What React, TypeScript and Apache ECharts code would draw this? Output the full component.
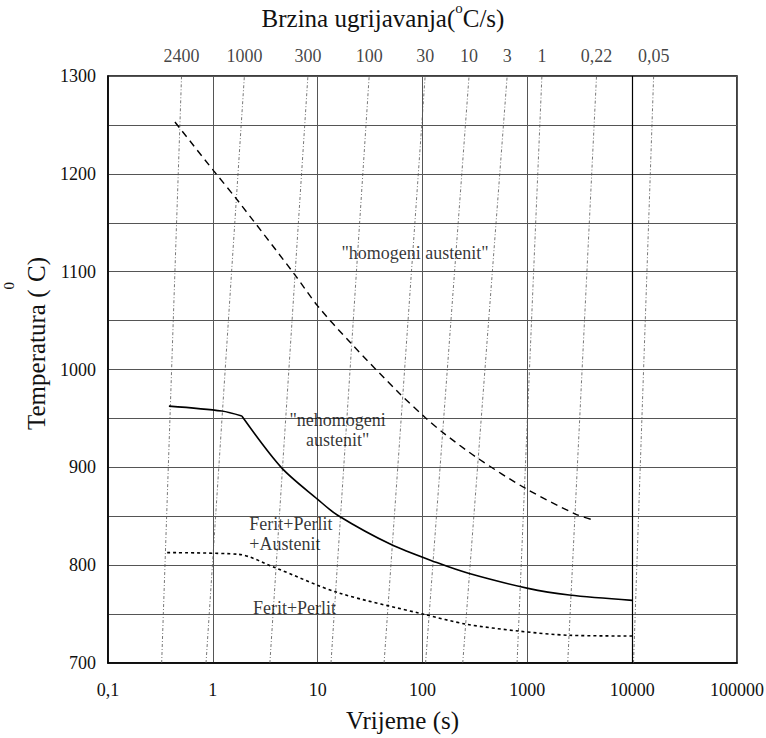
import React, { useEffect, useRef } from "react";
import * as echarts from "echarts";

// Heating-rate lines (°C/s): time at 700 °C and at 1300 °C
const rateLabels = ["2400", "1000", "300", "100", "30", "10", "3", "1", "0,22", "0,05"];
const rateTimeAt700 = [0.325, 0.861, 3.5, 13.4, 43.0, 107, 242, 798, 2427, 10300];
const rateTimeAt1300 = [0.503, 2.0, 8.07, 31.0, 106, 278, 642, 1377, 4570, 16030];

// Upper dashed curve (homogeni austenit boundary)
const homogenTime = [0.435, 1.02, 1.69, 6.04, 10.0, 20.7, 59.7, 106, 159, 329, 977, 2910, 4340];
const homogenTemp = [1253, 1203, 1174, 1097, 1065, 1027, 976, 951, 935, 910, 878, 852, 846];

// Solid curve (Ac3) – flat part and falling part
const solidFlatTime = [0.381, 1.22, 1.89];
const solidFlatTemp = [962.6, 957.5, 952.4];
const solidFallTime = [1.89, 4.51, 10.0, 15.5, 49.7, 137, 274, 1016, 2512, 10000];
const solidFallTemp = [952.4, 899.7, 867.3, 851, 821.3, 802.6, 791.7, 776.3, 769.5, 764];

// Lower dotted curve (Ac1)
const dotTime = [0.367, 1.75, 3.91, 15.5, 103, 264, 817, 2512, 10000];
const dotTemp = [812.8, 811.1, 797.5, 772, 749.8, 739.6, 732.7, 728.3, 727.6];

// Heavier vertical reference line
const boldTimeLine = [10000];

// Region annotations
const annoText = ['"homogeni austenit"', '"nehomogeni\naustenit"', "Ferit+Perlit\n+Austenit", "Ferit+Perlit"];
const annoTime = [85, 15.5, 2.23, 6.01];
const annoTemp = [1118.6, 937.8, 831.5, 755.9];
const annoAlign = ["center", "center", "left", "center"];

const FONT = "Liberation Serif, Times New Roman, serif";

export default function App() {
  const ref = useRef<HTMLDivElement>(null);
  useEffect(() => {
    if (!ref.current) return;
    const chart = echarts.init(ref.current, null, { renderer: "svg" });
    const zip = (a: number[], b: number[]) => a.map((v, i) => [v, b[i]]);

    const rateSeries = rateLabels.map((lab, i) => ({
      type: "line",
      name: "rate " + lab,
      data: [
        [rateTimeAt700[i], 700],
        [rateTimeAt1300[i], 1300],
      ],
      showSymbol: false,
      clip: false,
      silent: true,
      lineStyle: { color: "#555", width: 0.8, type: [3, 2, 1, 2] },
      z: 1,
    }));

    const option: any = {
      animation: false,
      backgroundColor: "#fff",
      textStyle: { fontFamily: FONT },
      title: {
        left: "center",
        top: -5,
        text: "{m|Brzina ugrijavanja(}{s|o}{m|C/s)}",
        textStyle: {
          fontWeight: "normal",
          rich: {
            m: { fontFamily: FONT, fontSize: 25, fontWeight: "normal", color: "#111", lineHeight: 25, verticalAlign: "bottom" },
            s: { fontFamily: FONT, fontSize: 15, fontWeight: "normal", color: "#111", lineHeight: 31, verticalAlign: "top" },
          },
        },
      },
      grid: {
        left: 108,
        right: 29,
        top: 76,
        bottom: 75,
        show: true,
        borderColor: "#000",
        borderWidth: 1.5,
        outerBoundsMode: "none",
        containLabel: false,
      },
      xAxis: {
        type: "log",
        logBase: 10,
        min: 0.1,
        max: 100000,
        splitNumber: 6,
        name: "Vrijeme (s)",
        nameLocation: "middle",
        nameGap: 45,
        nameTextStyle: { fontFamily: FONT, fontSize: 25, color: "#111", padding: [0, 40, 0, 0] },
        axisLine: { show: true, lineStyle: { color: "#000", width: 1.5 } },
        axisTick: { show: false },
        axisLabel: {
          margin: 18,
          fontFamily: FONT,
          fontSize: 18,
          color: "#111",
          formatter: (v: number) => String(v).replace(".", ","),
        },
        splitLine: { show: true, lineStyle: { color: "#555", width: 1 } },
        minorTick: { show: false },
      },
      yAxis: {
        type: "value",
        min: 700,
        max: 1300,
        interval: 50,
        name: "{m|Temperatura (}{s|0}{m|C)}",
        nameLocation: "middle",
        nameGap: 31,
        nameRotate: 90,
        nameTextStyle: {
          padding: [0, 0, 0, 52],
          rich: {
            m: { fontFamily: FONT, fontSize: 25, color: "#111", lineHeight: 25, verticalAlign: "bottom" },
            s: { fontFamily: FONT, fontSize: 15, color: "#111", lineHeight: 48, verticalAlign: "top" },
          },
        },
        axisLine: { show: true, lineStyle: { color: "#000", width: 1.5 } },
        axisTick: { show: false },
        axisLabel: {
          margin: 12,
          fontFamily: FONT,
          fontSize: 18,
          color: "#111",
          formatter: (v: number) => (v % 100 === 0 ? String(v) : ""),
        },
        splitLine: { show: true, lineStyle: { color: "#555", width: 1 } },
      },
      series: [
        ...rateSeries,
        {
          type: "line",
          name: "homogeni",
          data: zip(homogenTime, homogenTemp),
          showSymbol: false,
          smooth: 0.3,
          lineStyle: { color: "#000", width: 1.4, type: [7, 5] },
          z: 3,
        },
        {
          type: "line",
          name: "Ac3 flat",
          data: zip(solidFlatTime, solidFlatTemp),
          showSymbol: false,
          smooth: 0.3,
          lineStyle: { color: "#000", width: 1.6 },
          z: 3,
        },
        {
          type: "line",
          name: "Ac3",
          data: zip(solidFallTime, solidFallTemp),
          showSymbol: false,
          smooth: 0.3,
          lineStyle: { color: "#000", width: 1.6 },
          markLine: {
            silent: true,
            symbol: "none",
            label: { show: false },
            lineStyle: { color: "#000", width: 1.2, type: "solid" },
            data: boldTimeLine.map((t) => ({ xAxis: t })),
          },
          z: 3,
        },
        {
          type: "line",
          name: "Ac1",
          data: zip(dotTime, dotTemp),
          showSymbol: false,
          smooth: 0.3,
          lineStyle: { color: "#000", width: 1.6, type: [3, 3] },
          z: 3,
        },
        {
          type: "scatter",
          name: "rate labels",
          clip: false,
          silent: true,
          symbolSize: 0,
          data: rateTimeAt1300.map((t, i) => ({ value: [t, 1300], name: rateLabels[i] })),
          label: {
            show: true,
            position: "top",
            distance: 11,
            formatter: (p: any) => p.name,
            fontFamily: FONT,
            fontSize: 18,
            color: "#111",
          },
          z: 5,
        },
        {
          type: "scatter",
          name: "annotations",
          clip: false,
          silent: true,
          symbolSize: 0,
          data: annoText.map((txt, i) => ({
            value: [annoTime[i], annoTemp[i]],
            name: txt,
            label: { align: annoAlign[i] },
          })),
          label: {
            show: true,
            position: [0, 0],
            verticalAlign: "middle",
            formatter: (p: any) => p.name,
            fontFamily: FONT,
            fontSize: 18,
            lineHeight: 20,
            color: "#000",
          },
          z: 5,
        },
      ],
    };
    chart.setOption(option);
    return () => chart.dispose();
  }, []);
  return (
    <div
      ref={ref}
      style={{ position: "fixed", left: 0, top: 0, width: 766, height: 738, background: "#fff" }}
    />
  );
}
